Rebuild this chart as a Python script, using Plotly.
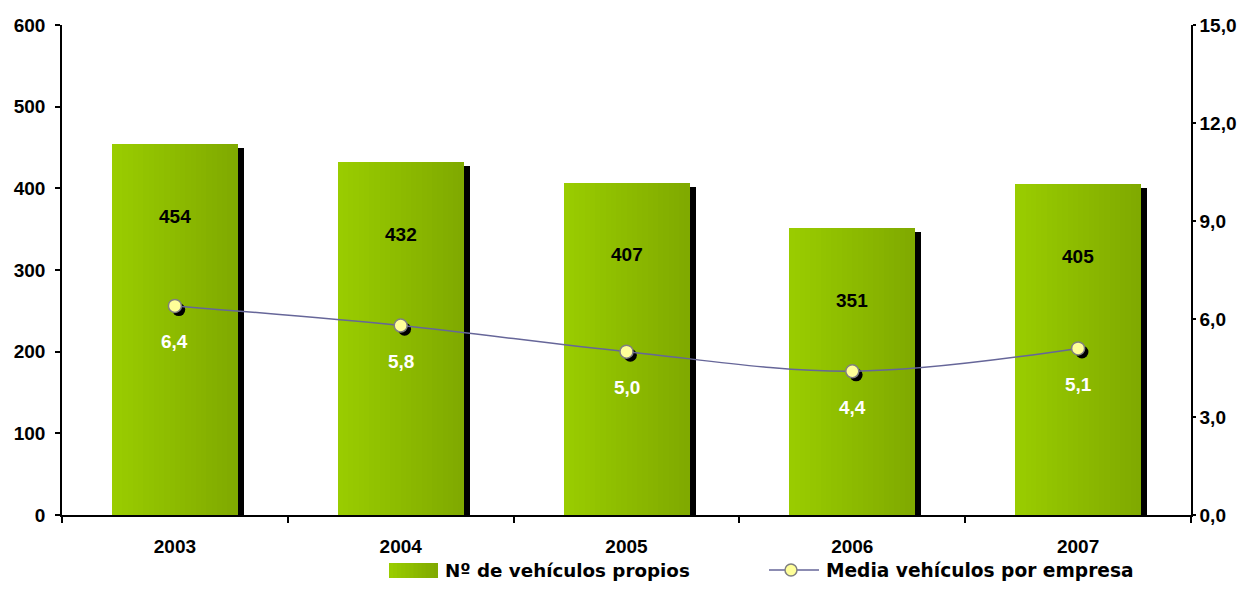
import plotly.graph_objects as go

years = ["2003", "2004", "2005", "2006", "2007"]
vehiculos = [454, 432, 407, 351, 405]
media = [6.4, 5.8, 5.0, 4.4, 5.1]
media_txt = ["6,4", "5,8", "5,0", "4,4", "5,1"]
left_ticks = [0, 100, 200, 300, 400, 500, 600]
right_ticks = [0, 3, 6, 9, 12, 15]
right_txt = ["0,0", "3,0", "6,0", "9,0", "12,0", "15,0"]
legend_names = ["Nº de vehículos propios", "Media vehículos por empresa"]

FONT = "Liberation Sans, Arial, sans-serif"
LFONT = "DejaVu Sans, sans-serif"
ML, MR, MT, MB = 62, 58, 25, 93
PW, PH = 1249 - ML - MR, 608 - MT - MB

def px(x):
    return (x - ML) / PW

def py(y):
    return (608 - MB - y) / PH

xs = list(range(len(years)))
bounds = [i - 0.5 for i in range(len(years) + 1)]
W = 0.558
c0, c1 = (153, 204, 0), (128, 170, 0)

def grad(t):
    return "rgb(%d,%d,%d)" % tuple(round(a + (b - a) * t) for a, b in zip(c0, c1))

fig = go.Figure()

# shadow behind the bars
fig.add_trace(go.Bar(x=xs, y=[v - 5 for v in vehiculos], width=W, offset=-W / 2 + 0.027,
                     marker=dict(color="black", line=dict(width=0)), hoverinfo="skip"))

# horizontal gradient made from stacked slices
n = 24
for i in range(n):
    fig.add_trace(go.Bar(x=xs, y=vehiculos, width=W - i * W / n, offset=-W / 2 + i * W / n,
                         marker=dict(color=grad(i / (n - 1)), line=dict(width=0)),
                         name=legend_names[0], hoverinfo="skip" if i else None))

# marker shadows
fig.add_trace(go.Scatter(x=[x + 0.017 for x in xs], y=[m - 0.11 for m in media], yaxis="y2",
                         mode="markers", marker=dict(size=13, color="black"), hoverinfo="skip"))

fig.add_trace(go.Scatter(x=xs, y=media, yaxis="y2", mode="lines+markers", name=legend_names[1],
                         line=dict(color="#666699", width=1.5, shape="spline"),
                         marker=dict(size=13, color="#FFFF99", line=dict(color="#808080", width=1.5))))

for x, v in zip(xs, vehiculos):
    fig.add_annotation(x=x, y=v, yref="y", text="<b>%d</b>" % v, showarrow=False, yshift=-72,
                       font=dict(family=FONT, size=19, color="black"))
for x, m, t in zip(xs, media, media_txt):
    fig.add_annotation(x=x, y=m, yref="y2", text="<b>%s</b>" % t, showarrow=False, yshift=-36,
                       font=dict(family=FONT, size=19, color="white"))

# legend drawn by hand
shapes = []
ns = 12
for i in range(ns):
    x0 = 389 + i * 49 / ns
    shapes.append(dict(type="rect", xref="paper", yref="paper", x0=px(x0), x1=px(438),
                       y0=py(578), y1=py(563), fillcolor=grad(i / (ns - 1)), line=dict(width=0)))
shapes.append(dict(type="line", xref="paper", yref="paper", x0=px(769), x1=px(819),
                   y0=py(570), y1=py(570), line=dict(color="#666699", width=1.5)))
shapes.append(dict(type="circle", xref="paper", yref="paper", x0=px(785), x1=px(797),
                   y0=py(576), y1=py(564), fillcolor="#FFFF99", line=dict(color="#808080", width=1.5)))
fig.add_annotation(xref="paper", yref="paper", x=px(443), y=py(570), xanchor="left", yanchor="middle",
                   text="<b>%s</b>" % legend_names[0], showarrow=False,
                   font=dict(family=LFONT, size=18.3, color="black"))
fig.add_annotation(xref="paper", yref="paper", x=px(824), y=py(570), xanchor="left", yanchor="middle",
                   text="<b>%s</b>" % legend_names[1], showarrow=False,
                   font=dict(family=LFONT, size=18.6, color="black"))

tickfont = dict(family=FONT, size=19, color="black")
tk = dict(tickcolor="black", tickwidth=1.5, showgrid=False, zeroline=False, automargin=False)
fig.update_layout(
    width=1249, height=608,
    margin=dict(l=ML, r=MR, t=MT, b=MB),
    paper_bgcolor="white", plot_bgcolor="white",
    barmode="overlay", bargap=0, showlegend=False,
    font=dict(family=FONT, color="black"),
    shapes=shapes,
    xaxis=dict(range=[-0.5, 4.5], tickvals=xs, ticktext=["<b>%s</b>" % y for y in years],
               ticks="", tickfont=tickfont, ticklabelstandoff=13,
               showline=True, linecolor="black", linewidth=1.5,
               minor=dict(tickmode="array", tickvals=bounds, ticks="outside", ticklen=6,
                          tickcolor="black", tickwidth=1.5, showgrid=False), **tk),
    xaxis2=dict(range=[-0.5, 4.5], overlaying="x", anchor="y", side="bottom",
                tickvals=bounds, ticks="inside", ticklen=6,
                showticklabels=False, showline=False, **tk),
    yaxis=dict(range=[0, 600], tickvals=left_ticks, ticktext=["<b>%d</b>" % v for v in left_ticks],
               ticks="outside", ticklen=5, tickfont=tickfont, ticklabelstandoff=6,
               showline=True, linecolor="black", linewidth=1.5, **tk),
    yaxis2=dict(range=[0, 15], overlaying="y", side="right", tickvals=right_ticks,
                ticktext=["<b>%s</b>" % t for t in right_txt],
                ticks="outside", ticklen=3, tickfont=tickfont, ticklabelstandoff=0,
                showline=True, linecolor="black", linewidth=1.5, **tk),
    yaxis3=dict(range=[0, 600], overlaying="y", side="left", anchor="x", tickvals=left_ticks,
                ticks="inside", ticklen=5, showticklabels=False, showline=False, **tk),
    yaxis4=dict(range=[0, 15], overlaying="y", side="right", anchor="x", tickvals=right_ticks,
                ticks="inside", ticklen=6, showticklabels=False, showline=False, **tk),
)

# page body has a default margin; drop it so the figure sits at the window corner
fig.write_html("out.html", config={"displayModeBar": False},
               post_script="document.body.style.margin='0';")
